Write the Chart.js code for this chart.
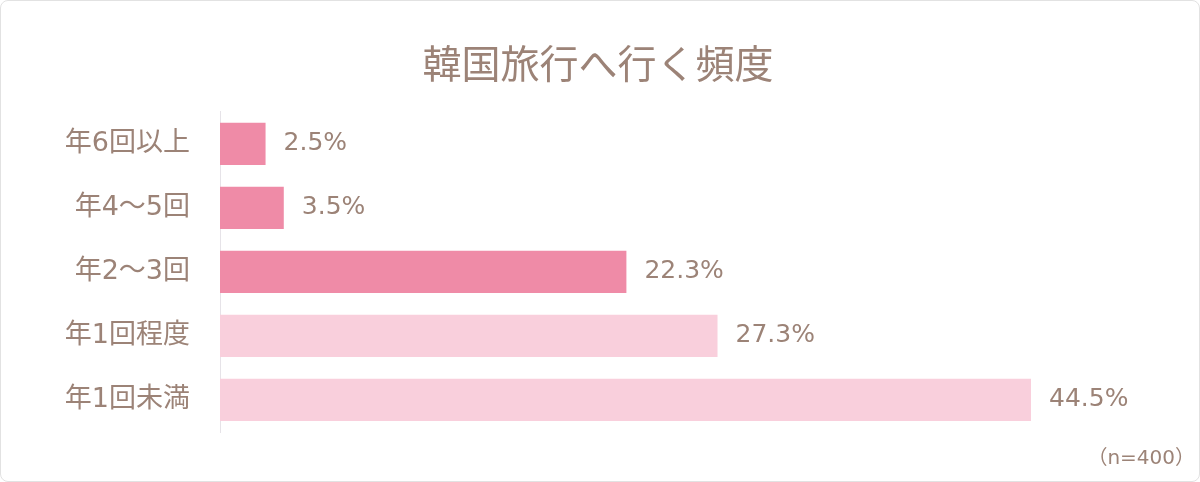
<!DOCTYPE html>
<html lang="ja">
<head>
<meta charset="utf-8">
<title>韓国旅行へ行く頻度</title>
<script src="https://cdn.jsdelivr.net/npm/chart.js@4.4.1/dist/chart.umd.min.js"></script>
<style>
  html, body { margin: 0; padding: 0; background: #fff; }
  .cadre {
    width: 1200px;
    height: 482px;
    box-sizing: border-box;
    border: 1px solid #e2e2e2;
    border-radius: 8px;
    overflow: hidden;
    background: #fff;
  }
  canvas { display: block; }
</style>
</head>
<body>
<div class="cadre">
  <canvas id="graficoFrequencia" width="1198" height="480"></canvas>
</div>
<script>
// dados
const categorias = ['年6回以上', '年4〜5回', '年2〜3回', '年1回程度', '年1回未満'];
const valores = [2.5, 3.5, 22.3, 27.3, 44.5];
const titulo = '韓国旅行へ行く頻度';
const amostra = '（n=400）';

const cores = {
    rosa: '#ef8ba7',
    rosaClaro: '#f9cfdc',
    texto: '#9c8377',
    eixo: '#e6e3e8'
};

const fonte = "'DejaVu Sans', 'Noto Sans CJK JP', sans-serif";

// rótulos de valor ao lado das barras
const rotulosValor = {
    id: 'rotulosValor',
    afterDatasetsDraw(chart) {
        const ctx = chart.ctx;
        const meta = chart.getDatasetMeta(0);
        ctx.save();
        ctx.fillStyle = cores.texto;
        ctx.font = '25px ' + fonte;
        ctx.textAlign = 'left';
        ctx.textBaseline = 'middle';
        meta.data.forEach((barra, i) => {
            ctx.fillText(valores[i].toFixed(1) + '%', barra.x + 18, barra.y);
        });
        ctx.restore();
    }
};

const ctx = document.getElementById('graficoFrequencia');
new Chart(ctx, {
    type: 'bar',
    data: {
        labels: categorias,
        datasets: [{
            data: valores,
            backgroundColor: [
                cores.rosa,
                cores.rosa,
                cores.rosa,
                cores.rosaClaro,
                cores.rosaClaro
            ],
            borderWidth: 0,
            barPercentage: 0.66,
            categoryPercentage: 1
        }]
    },
    options: {
        indexAxis: 'y',
        responsive: false,
        animation: false,
        layout: {
            padding: { top: 0, bottom: 0, left: 0, right: 4 }
        },
        plugins: {
            legend: { display: false },
            tooltip: { enabled: false },
            title: {
                display: true,
                text: titulo,
                color: cores.texto,
                font: { family: "'Noto Sans CJK JP', sans-serif", size: 39, weight: 'normal' },
                padding: { top: 39, bottom: 25 }
            },
            subtitle: {
                display: true,
                text: amostra,
                position: 'bottom',
                align: 'end',
                color: cores.texto,
                font: { family: fonte, size: 20, weight: 'normal' },
                padding: { top: 15, bottom: 10 }
            }
        },
        scales: {
            x: {
                display: false,
                min: 0,
                max: 53.5
            },
            y: {
                afterFit(escala) { escala.width = 219; },
                grid: { display: false },
                border: { display: true, color: cores.eixo, width: 1 },
                ticks: {
                    color: cores.texto,
                    padding: 22,
                    font: { family: fonte, size: 27 }
                }
            }
        }
    },
    plugins: [rotulosValor]
});
</script>
</body>
</html>
